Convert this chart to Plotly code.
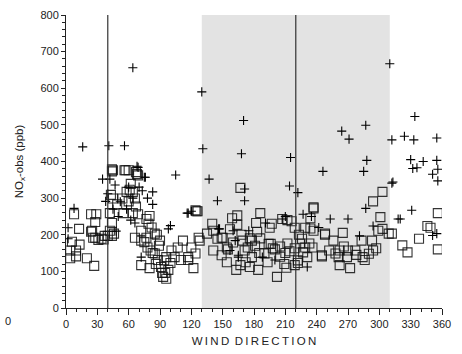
import plotly.graph_objects as go

# Wind direction (deg) and NOx-obs (ppb) for the "+" series
cross_dir = [2, 2, 7.7, 16, 35, 38, 40, 42, 41, 47, 56, 64, 68, 75, 69, 76, 105, 83, 83, 117,
             120, 98, 100, 66, 72, 130, 131, 170, 168, 215, 246, 137, 214, 222, 171, 145, 171,
             147, 165, 231, 200, 227, 253, 191, 210, 288, 285, 312, 287, 270, 294, 281, 318,
             334, 312, 324, 333, 355, 330, 332, 336, 342, 355, 356, 351, 356, 313, 331, 320,
             355, 351, 310, 287, 264, 271, 162, 157, 165, 188, 175, 146, 160, 50, 52, 58, 62,
             64, 70, 73, 78, 60, 45, 48, 116, 207, 235, 242]
cross_nox = [219, 189, 272, 440, 352, 291, 312, 352, 443, 336, 443, 656, 387, 357, 384, 357, 363,
             317, 283, 259, 264, 216, 225, 232, 139, 590, 435, 512, 421, 411, 373, 352, 333, 315,
             325, 293, 293, 216, 144, 112, 131, 256, 243, 232, 250, 403, 373, 341, 272, 243, 224,
             197, 243, 523, 459, 469, 459, 464, 405, 381, 383, 400, 403, 379, 365, 347, 344, 267,
             243, 203, 198, 667, 499, 483, 461, 184, 157, 139, 139, 211, 216, 211, 250, 290, 270,
             240, 300, 330, 320, 300, 330, 270, 210, 259, 243, 250, 220]

# Wind direction (deg) and NOx-obs (ppb) for the square series
sq_dir = [7.7, 12.5, 5.7, 13, 4, 9.6, 4, 9.6, 20, 27, 24, 29, 28, 24, 26, 31, 36, 40, 44,
          44, 44, 56, 60, 45, 57, 68, 69, 43, 45, 54, 58, 60, 55, 42, 44, 42, 46, 37, 34, 25,
          28, 49, 61, 67, 62, 64, 66, 67, 64, 69, 77, 80, 72, 66, 72, 77, 85, 90, 78, 81, 85,
          72, 80, 88, 91, 95, 93, 98, 96, 101, 107, 112, 120, 117, 124, 110, 104, 100, 96, 92,
          86, 83, 89, 94, 87, 75, 79, 82, 126, 167, 124, 186, 164, 159, 237, 207, 212, 234,
          237, 182, 195, 164, 135, 150, 183, 219, 248, 141, 149, 154, 174, 178, 176, 184, 163,
          167, 190, 202, 193, 212, 219, 222, 231, 245, 128, 117, 122, 160, 171, 154, 145, 178,
          198, 224, 227, 236, 125, 127, 141, 149, 155, 169, 176, 181, 172, 185, 237, 234, 229,
          248, 252, 245, 219, 222, 229, 233, 210, 205, 196, 200, 216, 226, 223, 197, 209, 211,
          303, 294, 301, 303, 299, 309, 265, 256, 283, 293, 297, 294, 290, 277, 270, 262, 258,
          284, 278, 269, 261, 286, 262, 272, 266, 356, 346, 349, 312, 338, 322, 327, 356, 140,
          157, 168, 186, 194, 205, 214]
sq_nox = [256, 216, 181, 173, 157, 157, 136, 141, 136, 115, 256, 256, 235, 208, 192, 186, 187,
          197, 197, 379, 373, 376, 376, 376, 376, 366, 362, 309, 299, 299, 317, 291, 259, 259,
          232, 211, 203, 197, 189, 211, 192, 283, 323, 371, 339, 317, 299, 277, 259, 256, 243,
          251, 211, 192, 184, 192, 203, 184, 165, 157, 149, 117, 109, 131, 112, 96, 85, 104,
          139, 157, 165, 184, 165, 139, 149, 131, 139, 123, 80, 96, 120, 150, 170, 130, 200,
          180, 230, 220, 264, 328, 267, 259, 253, 245, 272, 243, 240, 245, 211, 232, 219, 227,
          203, 192, 208, 219, 200, 157, 144, 125, 165, 139, 112, 104, 104, 117, 149, 85, 125,
          176, 163, 123, 139, 144, 184, 131, 109, 179, 157, 165, 189, 184, 163, 176, 152, 165,
          264, 192, 211, 192, 160, 184, 190, 170, 125, 150, 275, 217, 219, 203, 157, 141, 117,
          130, 165, 176, 150, 140, 175, 160, 237, 189, 200, 230, 120, 110, 317, 291, 248, 216,
          211, 203, 205, 184, 184, 184, 163, 157, 148, 157, 157, 157, 149, 139, 145, 139, 139,
          131, 117, 109, 168, 259, 224, 219, 203, 189, 171, 152, 160, 230, 215, 200, 190, 175,
          168, 155]

x_ticks = [0, 30, 60, 90, 120, 150, 180, 210, 240, 270, 300, 330, 360]
y_ticks = [0, 100, 200, 300, 400, 500, 600, 700, 800]
shade_range = [130, 310]
ref_lines = [40, 220]

fig = go.Figure()

fig.add_vrect(x0=shade_range[0], x1=shade_range[1], fillcolor="#e3e3e3", line_width=0,
              layer="below")
for xv in ref_lines:
    fig.add_shape(type="line", x0=xv, x1=xv, y0=0, y1=800, xref="x", yref="y",
                  line=dict(color="#333333", width=1.2), layer="above")

fig.add_trace(go.Scatter(x=sq_dir, y=sq_nox, mode="markers", name="sq",
                         marker=dict(symbol="square-open", size=9, color="#111111",
                                     line=dict(width=1.1, color="#111111"), opacity=0.85)))
fig.add_trace(go.Scatter(x=cross_dir, y=cross_nox, mode="markers", name="cross",
                         marker=dict(symbol="cross-thin-open", size=6.5, color="#000000",
                                     line=dict(width=1.1, color="#000000"))))

font = "Liberation Sans, Arial, sans-serif"
fig.update_layout(
    width=462, height=354,
    margin=dict(l=66, r=20, t=9, b=45),
    plot_bgcolor="white", paper_bgcolor="white",
    showlegend=False,
    font=dict(family=font, size=11, color="#222222"),
    xaxis=dict(range=[0, 360], tickvals=x_ticks, ticks="outside", ticklen=6, tickwidth=1,
               tickcolor="#222", showline=True, linecolor="#222", linewidth=1,
               showgrid=False, zeroline=False,
               minor=dict(dtick=10, ticks="outside", ticklen=3, tickcolor="#222", showgrid=False),
               tickfont=dict(size=11),
               title=dict(text="W\u2009I\u2009N\u2009D\u2009 D\u2009I\u2009R\u2009E\u2009C\u2009T\u2009I\u2009O\u2009N",
                          font=dict(size=11.5), standoff=7)),
    yaxis=dict(range=[0, 800], tickvals=y_ticks, ticks="outside", ticklen=4, tickwidth=1,
               tickcolor="#222", showline=True, linecolor="#222", linewidth=1,
               showgrid=False, zeroline=False,
               minor=dict(dtick=20, ticks="outside", ticklen=3, tickcolor="#222", showgrid=False),
               tickfont=dict(size=11),
               title=dict(text="NO<sub>x</sub>-obs (ppb)", font=dict(size=11.5), standoff=14)),
)
fig.add_annotation(x=0, y=0, xref="paper", yref="paper", xshift=-63, yshift=-5,
                   text="0", showarrow=False, font=dict(size=11, color="#222"),
                   xanchor="left", yanchor="top")

fig.write_html("out.html")
